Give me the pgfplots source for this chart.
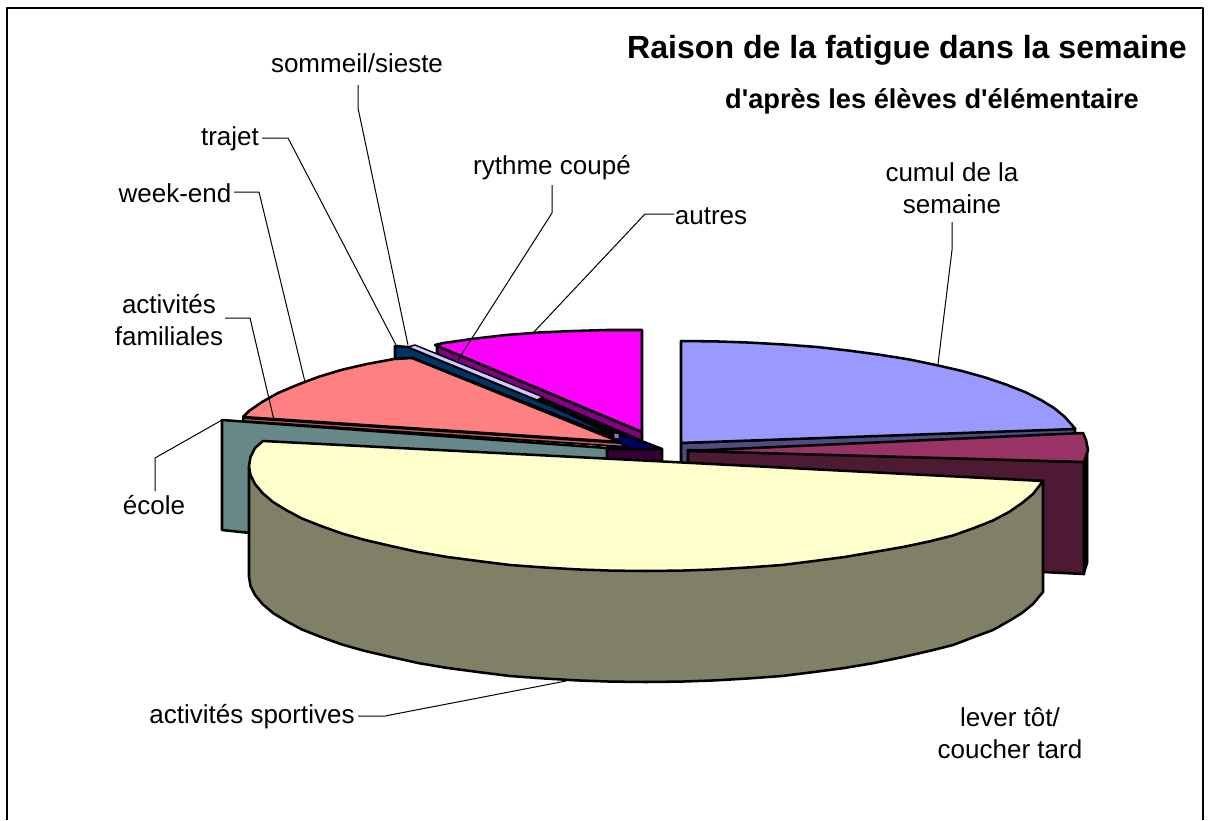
\documentclass[border=0pt]{standalone}
\usepackage{pgfplots}
\pgfplotsset{compat=1.18}
\usepackage{fontspec}
\setmainfont{Liberation Sans}
\newfontfamily\plainsans{Liberation Sans}
\definecolor{cCumul}{HTML}{9999FF}
\definecolor{cCumulS}{HTML}{4D4D80}
\definecolor{cLever}{HTML}{993366}
\definecolor{cLeverS}{HTML}{4D1933}
\definecolor{cSport}{HTML}{FFFFCC}
\definecolor{cSportS}{HTML}{808066}
\definecolor{cEcole}{HTML}{668888}
\definecolor{cFam}{HTML}{C06060}
\definecolor{cWeek}{HTML}{FF8080}
\definecolor{cTrajet}{HTML}{003366}
\definecolor{cSomm}{HTML}{CCCCFF}
\definecolor{cSquare}{HTML}{7F7FA8}
\definecolor{cAutres}{HTML}{FF00FF}
\definecolor{cRythme}{HTML}{800080}
\definecolor{cBox}{HTML}{330033}
\definecolor{cNavy}{HTML}{000066}
\tikzset{
  lab/.style={font=\fontsize{19.5}{24}\selectfont, align=center, inner sep=0pt, anchor=center},
  lead/.style={line width=0.75pt, draw=black},
}
\begin{document}
\begin{tikzpicture}
\begin{axis}[
  scale only axis, width=907.5pt, height=615pt,
  xmin=0, xmax=1210, ymin=0, ymax=820, y dir=reverse,
  hide axis, clip=false,
  every axis plot/.append style={line join=round, line width=1.9pt, draw=black},
]
% page extent
\addplot[draw=none, line width=0pt] coordinates {(0,0)(1210,820)};
% frame
\addplot[line width=1pt, draw=black] coordinates {(7,820)(7,8)(1203,8)(1203,820)};
% back centre
\addplot[fill=cBox] coordinates {(607,448)(662,449)(662,466)(607,464)} --cycle;
\addplot[fill=cNavy] coordinates {(613,430)(662,449)(607,449)} --cycle;
% autres
\addplot[fill=cRythme] coordinates {(437,345)(642,432)(642,441)(437,354)} --cycle;
\addplot[fill=cAutres] coordinates {(642,432)(642,330)(607,330)(573,331)(539,332.5)(506,335)(474,338.7)(443.5,343)(435,345)} --cycle;
% sommeil, trajet
\addplot[fill=cTrajet] coordinates {(395,346)(395,359)(412,358)(612,437)(612,431)(408,347)} --cycle;
\addplot[fill=black, line width=0.5pt] coordinates {(530,395)(628,437)(612,436)} --cycle;
\addplot[fill=cSomm, line width=1.1pt] coordinates {(408,347)(415,345)(543,397)(537,400)} --cycle;
\addplot[fill=cSquare, line width=0.4pt] coordinates {(614,433)(619,434)(619,439)(614,438)} --cycle;
% ecole
\addplot[fill=cEcole] coordinates {(222,420)(607,448)(607,466)(250,500)(250,533)(222,530)} --cycle;
% familiales
\addplot[fill=cFam, line width=1.4pt] coordinates {(243,418)(620,443)(628,447)(243,421)} --cycle;
% week-end
\addplot[fill=cWeek] coordinates {(620,442)(412,358)(394,359)(367,364)(341,370)(318,377)(297,385)(278,393)(262,402)(249,411)(243,417)} --cycle;
% cumul
\addplot[fill=cCumulS] coordinates {(681,443)(1075,428)(1075,435)(689,452)(689,472)(681,472)} --cycle;
\addplot[fill=cCumul] coordinates {(681,443)(681,341)(716,341.4)(750,342.6)(784,344.5)(817,347)(849,350.6)(879.5,354.7)(909,359.4)(936,365)(962,371)(985,377.4)(1006,384.5)(1025,392)(1041,400)(1054,408)(1064.5,416.6)(1072,425)(1075,429)} --cycle;
% lever
\addplot[fill=black, line width=0.5pt] coordinates {(1084,462)(1088,450)(1088,563)(1084,575)} --cycle;
\addplot[fill=cLeverS] coordinates {(688,450)(1084,462)(1084,574)(1043,572)(700,520)(688,500)} --cycle;
\addplot[fill=cLever] coordinates {(688,451)(1083,433)(1086,440)(1088,450)(1084,462)} --cycle;
% sportives
\addplot[fill=cSportS] coordinates {(1043,481)(1043,592)(1033,604)(1022,613)(1009,621)(993,630)(974,637)(953,645)(929,651)(903,657)(874,663)(844.5,668)(814,672)(782,676)(749,678.4)(715,680.4)(681,681.6)(646,682)(611,681.6)(577,680.4)(543,678.4)(510,676)(478,672)(447.5,668)(418,663)(391,657)(365,651)(342,644.5)(321,637)(302,629.5)(286,621)(273,613)(262.5,604)(255,595)(250.5,586)(249,577)(249,466)} --cycle;
\addplot[fill=cSport] coordinates {(263,441)(1043,481)(1040,485)(1033,494)(1022,503)(1009,512)(993,520.5)(974,528)(953,535.5)(929,541.5)(903,547)(874,552)(844.5,557)(814,561)(782,565)(749,567.4)(715,569.4)(681,570.6)(646,571)(611,570.6)(577,569.4)(543,567.4)(510,565)(478,561)(447.5,557)(418,552)(391,546)(365,540)(342,533.5)(321,526)(302,518.5)(286,510)(273,502)(262.5,493)(255,484)(250.5,475)(249,466)(250.5,457)(255,448)} --cycle;
% leaders
\addplot[lead] coordinates {(358,85)(358,108)(408,345)};
\addplot[lead] coordinates {(262,138)(288,138)(396,345)};
\addplot[lead] coordinates {(234,192)(259,192)(305,382)};
\addplot[lead] coordinates {(225,318)(250,318)(274,420)};
\addplot[lead] coordinates {(155,491)(155,458)(222,420)};
\addplot[lead] coordinates {(358,716)(385,716)(566,681)};
\addplot[lead] coordinates {(552,185)(552,213)(458,360)};
\addplot[lead] coordinates {(674,214)(645,214)(533,333)};
\addplot[lead] coordinates {(952,222)(952,250)(938,364)};
% text
\node[lab, font=\fontsize{24.05}{28}\selectfont\bfseries] at (axis cs:907,50) {Raison de la fatigue dans la semaine};
\node[lab, font=\plainsans\fontsize{20.4}{24}\selectfont\bfseries] at (axis cs:932,101) {d'après les élèves d'élémentaire};
\node[lab] at (axis cs:357,63) {sommeil/sieste};
\node[lab] at (axis cs:230,139) {trajet};
\node[lab] at (axis cs:175,193) {week-end};
\node[lab] at (axis cs:169,320) {activités\\familiales};
\node[lab] at (axis cs:154,505) {école};
\node[lab] at (axis cs:252,717) {activités sportives};
\node[lab] at (axis cs:1010,733) {lever tôt/\\coucher tard};
\node[lab] at (axis cs:952,188) {cumul de la\\semaine};
\node[lab] at (axis cs:552,168) {rythme coupé};
\node[lab] at (axis cs:711,216) {autres};
\end{axis}
\end{tikzpicture}
\end{document}
